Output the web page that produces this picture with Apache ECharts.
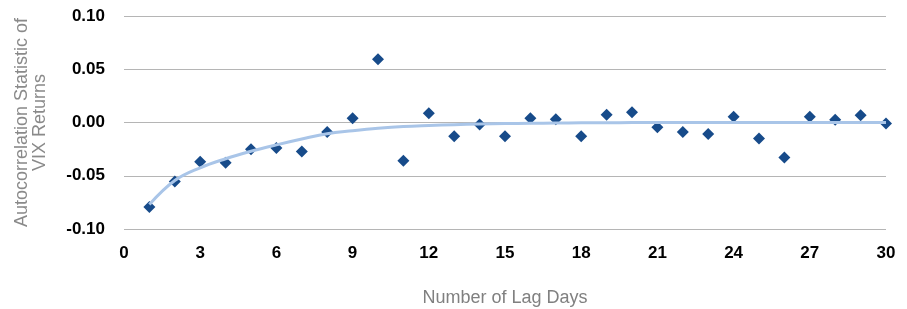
<!DOCTYPE html>
<html>
<head>
<meta charset="utf-8">
<script src="https://cdn.jsdelivr.net/npm/echarts@6/dist/echarts.min.js"></script>
<style>
html,body{margin:0;padding:0;background:#fff;}
#chart{width:907px;height:309px;}
</style>
</head>
<body>
<div id="chart"></div>
<script>
const lagDays = [1,2,3,4,5,6,7,8,9,10,11,12,13,14,15,16,17,18,19,20,21,22,23,24,25,26,27,28,29,30];
const autocorr = [-0.0793,-0.0553,-0.0368,-0.0378,-0.0250,-0.0240,-0.0272,-0.0090,0.0041,0.0594,
  -0.0359,0.0088,-0.0128,-0.0019,-0.0128,0.0041,0.0031,-0.0128,0.0072,0.0097,
  -0.0044,-0.0090,-0.0109,0.0053,-0.0150,-0.0328,0.0053,0.0025,0.0069,-0.0009];
const trend = [-0.077,-0.0545,-0.0425,-0.034,-0.027,-0.021,-0.0155,-0.0105,-0.0078,-0.0055,
  -0.0038,-0.0028,-0.002,-0.0014,-0.001,-0.0007,-0.0005,-0.0003,-0.0002,-0.0001,
  -0.0001,0,0,0,0,0,0,0,0,0];
const xTicks = {min:0, max:30, interval:3};
const yTicks = {min:-0.10, max:0.10, interval:0.05};
const xTitle = 'Number of Lag Days';
const yTitle = 'Autocorrelation Statistic of\nVIX Returns';

const chart = echarts.init(document.getElementById('chart'), null, {renderer:'canvas'});
const font = '"Liberation Sans", Arial, Helvetica, sans-serif';
chart.setOption({
  animation:false,
  grid:{left:124, right:21, top:16, bottom:80, outerBoundsMode:'none', containLabel:false},
  xAxis:{
    type:'value', min:xTicks.min, max:xTicks.max, interval:xTicks.interval,
    name:xTitle, nameLocation:'middle', nameGap:60,
    nameTextStyle:{color:'#808080', fontSize:18, fontFamily:font},
    axisLine:{show:false}, axisTick:{show:false}, splitLine:{show:false},
    axisLabel:{color:'#000', fontWeight:'bold', fontSize:17, fontFamily:font, margin:16}
  },
  yAxis:{
    type:'value', min:yTicks.min, max:yTicks.max, interval:yTicks.interval,
    name:yTitle, nameLocation:'middle', nameGap:75, nameRotate:90,
    nameTextStyle:{color:'#8a8a8a', fontSize:18, fontFamily:font, lineHeight:18},
    axisLine:{show:false}, axisTick:{show:false},
    splitLine:{show:true, lineStyle:{color:'#b5b5b5', width:1}},
    axisLabel:{color:'#000', fontWeight:'bold', fontSize:17, fontFamily:font, margin:19,
      formatter:v=>v.toFixed(2)}
  },
  series:[
    {
      type:'scatter', symbol:'diamond', symbolSize:12, z:2,
      itemStyle:{color:'#174b8a', opacity:1},
      emphasis:{disabled:true},
      data:lagDays.map((d,i)=>[d, autocorr[i]])
    },
    {
      type:'line', smooth:0.4, showSymbol:false, z:3,
      lineStyle:{color:'#a9c5e8', width:3},
      data:lagDays.map((d,i)=>[d, trend[i]])
    }
  ]
});
</script>
</body>
</html>
